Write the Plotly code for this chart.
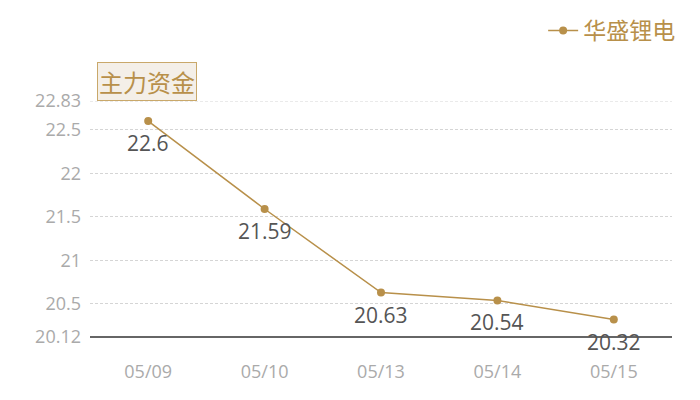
import plotly.graph_objects as go

dates = ["05/09", "05/10", "05/13", "05/14", "05/15"]
values = [22.6, 21.59, 20.63, 20.54, 20.32]
y_ticks = [20.12, 20.5, 21, 21.5, 22, 22.5, 22.83]
y_tick_text = ["20.12", "20.5", "21", "21.5", "22", "22.5", "22.83"]

gold = "#b8904a"
font_cn = "Noto Sans CJK SC, Microsoft YaHei, sans-serif"
font_num = "Open Sans, Noto Sans, sans-serif"

fig = go.Figure()
fig.add_trace(go.Scatter(
    x=dates, y=values, name="华盛锂电",
    mode="lines+markers",
    line=dict(color=gold, width=1.5),
    marker=dict(color=gold, size=8),
))

# value labels under each point
for d, v in zip(dates, values):
    fig.add_annotation(x=d, y=v, text=str(v), showarrow=False,
                       yshift=-22, yanchor="middle",
                       font=dict(color="#555555", size=21, family=font_num))

# title box
fig.add_annotation(
    text="主力资金", xref="paper", yref="paper", x=0.012, y=1.0,
    xanchor="left", yanchor="bottom", showarrow=False,
    font=dict(size=24, color=gold, family=font_cn),
    bgcolor="#f4efe8", bordercolor="#c9a86a", borderwidth=1, borderpad=1,
)

# gridline at top of range
fig.add_shape(type="line", xref="paper", yref="y", x0=0, x1=1, y0=22.83, y1=22.83,
              line=dict(color="#d5d5d5", width=1, dash="3px,2px"), layer="below")

fig.update_layout(
    width=700, height=400,
    margin=dict(l=82, r=36, t=93, b=71, autoexpand=False),
    plot_bgcolor="white", paper_bgcolor="white",
    font=dict(family=font_num),
    showlegend=True,
    legend=dict(x=1.014, y=1.39, xanchor="right", yanchor="top",
                font=dict(size=23, color=gold, family=font_cn),
                bgcolor="rgba(0,0,0,0)", itemwidth=30),
)
fig.update_xaxes(
    type="category", range=[-0.5, 4.5], showgrid=False,
    showline=False, zeroline=False,
    tickfont=dict(size=18, color="#aaaaaa", family=font_num), ticklabelstandoff=22,
)
fig.update_yaxes(
    range=[20.12, 22.83], tickvals=y_ticks, ticktext=y_tick_text,
    showgrid=True, gridcolor="#d5d5d5", griddash="3px,2px", gridwidth=1,
    zeroline=False, showline=False,
    tickfont=dict(size=18, color="#aaaaaa", family=font_num), ticklabelstandoff=8,
)
# bottom axis line
fig.add_shape(type="line", xref="paper", yref="paper", x0=0, x1=1, y0=0, y1=0,
              line=dict(color="#333333", width=1.5))

fig.write_html("out.html")
